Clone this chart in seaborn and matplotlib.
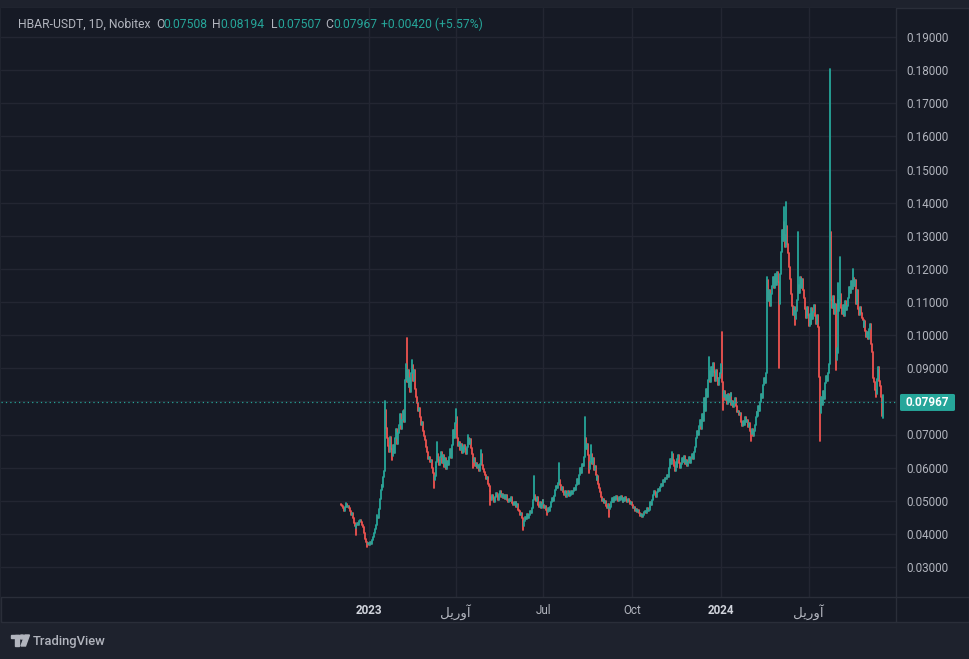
import numpy as np
import pandas as pd
import matplotlib
matplotlib.use("Agg")
import matplotlib.pyplot as plt
import matplotlib.dates as mdates
from matplotlib.patches import FancyBboxPatch, Rectangle, Circle, Polygon
from matplotlib.lines import Line2D
import seaborn as sns

# ---------------- data (daily closes, HBAR-USDT, Nobitex) ----------------
c_2022_12 = [0.0488, 0.0484, 0.0478, 0.0470, 0.0482, 0.0489, 0.0481, 0.0485, 0.0478, 0.0468,
             0.0458, 0.0462, 0.0447, 0.0432, 0.0425, 0.0419, 0.0428, 0.0434, 0.0426, 0.0440,
             0.0443, 0.0437, 0.0428, 0.0420, 0.0402, 0.0384, 0.0376, 0.0368, 0.0372]  # from Dec 3
c_2023_01 = [0.0366, 0.0374, 0.0370, 0.0381, 0.0390, 0.0402, 0.0415, 0.0428, 0.0452, 0.0448,
             0.0476, 0.0505, 0.0532, 0.0548, 0.0541, 0.0572, 0.0590, 0.0775, 0.0720, 0.0688,
             0.0664, 0.0648, 0.0692, 0.0657, 0.0635, 0.0668, 0.0645, 0.0690, 0.0718, 0.0672, 0.0705]
c_2023_02 = [0.0728, 0.0762, 0.0718, 0.0745, 0.0772, 0.0738, 0.0865, 0.0912, 0.0858, 0.0895,
             0.0842, 0.0870, 0.0828, 0.0885, 0.0910, 0.0862, 0.0895, 0.0838, 0.0812, 0.0795,
             0.0770, 0.0781, 0.0752, 0.0728, 0.0738, 0.0712, 0.0695, 0.0684]
c_2023_03 = [0.0662, 0.0648, 0.0625, 0.0632, 0.0618, 0.0622, 0.0598, 0.0585, 0.0562, 0.0575,
             0.0602, 0.0618, 0.0640, 0.0622, 0.0608, 0.0632, 0.0648, 0.0615, 0.0638, 0.0602,
             0.0628, 0.0595, 0.0620, 0.0608, 0.0632, 0.0655, 0.0628, 0.0668, 0.0715, 0.0690, 0.0735]
c_2023_04 = [0.0752, 0.0688, 0.0665, 0.0678, 0.0652, 0.0670, 0.0645, 0.0662, 0.0648, 0.0668,
             0.0655, 0.0640, 0.0662, 0.0690, 0.0672, 0.0685, 0.0660, 0.0642, 0.0618, 0.0628,
             0.0605, 0.0615, 0.0598, 0.0608, 0.0590, 0.0612, 0.0640, 0.0608, 0.0595, 0.0586]
c_2023_05 = [0.0578, 0.0565, 0.0572, 0.0552, 0.0545, 0.0528, 0.0510, 0.0502, 0.0518, 0.0508,
             0.0495, 0.0512, 0.0522, 0.0515, 0.0502, 0.0520, 0.0528, 0.0512, 0.0520, 0.0508,
             0.0516, 0.0505, 0.0518, 0.0502, 0.0495, 0.0506, 0.0498, 0.0510, 0.0492, 0.0486, 0.0495]
c_2023_06 = [0.0488, 0.0495, 0.0482, 0.0490, 0.0472, 0.0468, 0.0458, 0.0462, 0.0448, 0.0425,
             0.0438, 0.0452, 0.0445, 0.0460, 0.0448, 0.0456, 0.0468, 0.0462, 0.0478, 0.0502,
             0.0518, 0.0505, 0.0498, 0.0510, 0.0488, 0.0482, 0.0495, 0.0478, 0.0490, 0.0502]
c_2023_07 = [0.0488, 0.0478, 0.0485, 0.0472, 0.0465, 0.0478, 0.0470, 0.0482, 0.0495, 0.0508,
             0.0500, 0.0515, 0.0532, 0.0545, 0.0538, 0.0555, 0.0562, 0.0548, 0.0532, 0.0542,
             0.0525, 0.0518, 0.0530, 0.0512, 0.0520, 0.0528, 0.0515, 0.0524, 0.0518, 0.0530, 0.0520]
c_2023_08 = [0.0528, 0.0538, 0.0532, 0.0548, 0.0565, 0.0552, 0.0578, 0.0598, 0.0585, 0.0612,
             0.0605, 0.0632, 0.0688, 0.0655, 0.0672, 0.0638, 0.0595, 0.0618, 0.0640, 0.0610,
             0.0628, 0.0592, 0.0605, 0.0578, 0.0562, 0.0575, 0.0552, 0.0538, 0.0525, 0.0510, 0.0498]
c_2023_09 = [0.0505, 0.0492, 0.0498, 0.0485, 0.0478, 0.0490, 0.0475, 0.0482, 0.0495, 0.0508,
             0.0496, 0.0512, 0.0502, 0.0515, 0.0505, 0.0498, 0.0510, 0.0502, 0.0514, 0.0505,
             0.0496, 0.0508, 0.0500, 0.0512, 0.0503, 0.0495, 0.0506, 0.0498, 0.0490, 0.0497]
c_2023_10 = [0.0488, 0.0478, 0.0482, 0.0470, 0.0475, 0.0465, 0.0472, 0.0462, 0.0455, 0.0460,
             0.0452, 0.0458, 0.0466, 0.0470, 0.0462, 0.0478, 0.0468, 0.0472, 0.0480, 0.0495,
             0.0488, 0.0502, 0.0518, 0.0530, 0.0522, 0.0512, 0.0525, 0.0535, 0.0528, 0.0542, 0.0550]
c_2023_11 = [0.0545, 0.0562, 0.0558, 0.0570, 0.0565, 0.0578, 0.0572, 0.0598, 0.0625, 0.0612,
             0.0640, 0.0622, 0.0605, 0.0590, 0.0618, 0.0602, 0.0625, 0.0638, 0.0615, 0.0598,
             0.0612, 0.0630, 0.0618, 0.0635, 0.0610, 0.0622, 0.0605, 0.0618, 0.0632, 0.0615]
c_2023_12 = [0.0628, 0.0640, 0.0625, 0.0648, 0.0662, 0.0688, 0.0712, 0.0698, 0.0725, 0.0745,
             0.0718, 0.0762, 0.0742, 0.0785, 0.0810, 0.0772, 0.0838, 0.0812, 0.0865, 0.0892,
             0.0858, 0.0905, 0.0878, 0.0915, 0.0888, 0.0862, 0.0895, 0.0872, 0.0848, 0.0872, 0.0885]
c_2024_01 = [0.0912, 0.0858, 0.0812, 0.0832, 0.0805, 0.0818, 0.0792, 0.0822, 0.0798, 0.0815,
             0.0825, 0.0790, 0.0802, 0.0782, 0.0795, 0.0810, 0.0785, 0.0768, 0.0772, 0.0758,
             0.0765, 0.0738, 0.0725, 0.0742, 0.0730, 0.0752, 0.0738, 0.0745, 0.0722, 0.0735, 0.0712]
c_2024_02 = [0.0702, 0.0718, 0.0695, 0.0712, 0.0728, 0.0752, 0.0768, 0.0755, 0.0785, 0.0772,
             0.0798, 0.0822, 0.0810, 0.0848, 0.0872, 0.0855, 0.0885, 0.1165, 0.1102, 0.1135,
             0.1088, 0.1125, 0.1148, 0.1175, 0.1142, 0.1185, 0.1152, 0.1192, 0.1160]
c_2024_03 = [0.1095, 0.1185, 0.1252, 0.1318, 0.1285, 0.1342, 0.1302, 0.1265, 0.1328, 0.1275,
             0.1248, 0.1205, 0.1168, 0.1125, 0.1088, 0.1062, 0.1085, 0.1048, 0.1072, 0.1105,
             0.1152, 0.1128, 0.1175, 0.1142, 0.1168, 0.1135, 0.1112, 0.1078, 0.1052, 0.1085, 0.1062]
c_2024_04 = [0.1028, 0.1065, 0.1035, 0.1082, 0.1048, 0.1070, 0.1092, 0.1058, 0.1035, 0.1062,
             0.1025, 0.0875, 0.0765, 0.0812, 0.0790, 0.0832, 0.0808, 0.0855, 0.0878, 0.0862,
             0.0885, 0.0912, 0.1310, 0.1105, 0.1082, 0.1118, 0.1065, 0.1095, 0.0925, 0.0960]
c_2024_05 = [0.1105, 0.1072, 0.1098, 0.1125, 0.1082, 0.1065, 0.1092, 0.1058, 0.1102, 0.1075,
             0.1088, 0.1112, 0.1145, 0.1128, 0.1162, 0.1138, 0.1172, 0.1148, 0.1165, 0.1095,
             0.1135, 0.1078, 0.1062, 0.1085, 0.1068, 0.1052, 0.1045, 0.1025, 0.1042, 0.1012, 0.0995]
c_2024_06 = [0.1008, 0.0988, 0.1018, 0.1035, 0.0972, 0.0948, 0.0872, 0.0858, 0.0835, 0.0822,
             0.0868, 0.0905, 0.0862, 0.0845, 0.0812, 0.07547, 0.07967]

month_starts = ["2022-12-03", "2023-01-01", "2023-02-01", "2023-03-01", "2023-04-01", "2023-05-01",
                "2023-06-01", "2023-07-01", "2023-08-01", "2023-09-01", "2023-10-01", "2023-11-01",
                "2023-12-01", "2024-01-01", "2024-02-01", "2024-03-01", "2024-04-01", "2024-05-01",
                "2024-06-01"]
month_closes = [c_2022_12, c_2023_01, c_2023_02, c_2023_03, c_2023_04, c_2023_05, c_2023_06,
                c_2023_07, c_2023_08, c_2023_09, c_2023_10, c_2023_11, c_2023_12, c_2024_01,
                c_2024_02, c_2024_03, c_2024_04, c_2024_05, c_2024_06]
first_open = 0.0490

# notable wick extremes (date -> price)
wick_highs = {"2022-12-08": 0.0492, "2023-01-09": 0.0458, "2023-01-18": 0.0800, "2023-02-06": 0.0775,
              "2023-02-09": 0.0991, "2023-02-15": 0.0925, "2023-03-13": 0.0677, "2023-04-01": 0.0778,
              "2023-04-14": 0.0700, "2023-04-27": 0.0653, "2023-06-21": 0.0575, "2023-07-17": 0.0614,
              "2023-08-13": 0.0753, "2023-08-19": 0.0668, "2023-11-11": 0.0648, "2023-12-20": 0.0935,
              "2024-01-02": 0.1010, "2024-02-18": 0.1175, "2024-03-06": 0.1386, "2024-03-09": 0.1402,
              "2024-03-21": 0.1310, "2024-04-23": 0.1803, "2024-05-01": 0.1157, "2024-05-04": 0.1236,
              "2024-05-17": 0.1200, "2024-06-17": 0.08194}
wick_lows = {"2022-12-18": 0.0397, "2022-12-30": 0.0360, "2023-01-25": 0.0622, "2023-03-09": 0.0540,
             "2023-04-19": 0.0600, "2023-05-07": 0.0487, "2023-06-10": 0.0412, "2023-07-05": 0.0458,
             "2023-08-17": 0.0585, "2023-09-07": 0.0450, "2023-10-11": 0.0450, "2024-01-03": 0.0775,
             "2024-02-01": 0.0680, "2024-03-01": 0.0900, "2024-03-18": 0.1030, "2024-04-13": 0.0680,
             "2024-04-29": 0.0895, "2024-05-01": 0.0946, "2024-06-10": 0.0813, "2024-06-17": 0.07507}

price_ticks = [0.02, 0.03, 0.04, 0.05, 0.06, 0.07, 0.08, 0.09, 0.10, 0.11, 0.12, 0.13, 0.14,
               0.15, 0.16, 0.17, 0.18, 0.19, 0.20]
date_ticks = ["2023-01-01", "2023-04-01", "2023-07-01", "2023-10-01", "2024-01-01", "2024-04-01"]
date_labels = ["2023", "آوریل", "Jul", "Oct", "2024", "آوریل"]
header_parts = [("HBAR-USDT, 1D, Nobitex", "name"), ("O", "k"), ("0.07508", "v"), ("H", "k"),
                ("0.08194", "v"), ("L", "k"), ("0.07507", "v"), ("C", "k"), ("0.07967", "v"),
                ("+0.00420 (+5.57%)", "v")]

# ---------------- helpers ----------------
_forms = {  # isolated, final, initial, medial
    "آ": ("\uFE81", "\uFE82", None, None),
    "و": ("\uFEED", "\uFEEE", None, None),
    "ر": ("\uFEAD", "\uFEAE", None, None),
    "ی": ("\uFBFC", "\uFBFD", "\uFBFE", "\uFBFF"),
    "ل": ("\uFEDD", "\uFEDE", "\uFEDF", "\uFEE0"),
}


def shape_rtl(s):
    if not any(ch in _forms for ch in s):
        return s
    out = []
    for i, ch in enumerate(s):
        f = _forms[ch]
        jp = i > 0 and _forms[s[i - 1]][2] is not None
        jn = i < len(s) - 1 and f[2] is not None
        if jp and jn:
            g = f[3]
        elif jp:
            g = f[1]
        elif jn:
            g = f[2]
        else:
            g = f[0]
        out.append(g)
    return "".join(reversed(out))


# ---------------- build candles ----------------
dates, closes = [], []
for ms, cl in zip(month_starts, month_closes):
    dates.extend(pd.date_range(ms, periods=len(cl), freq="D"))
    closes.extend(cl)
opens = [first_open] + closes[:-1]
rows = []
for i, (d, o, c) in enumerate(zip(dates, opens, closes)):
    key = d.strftime("%Y-%m-%d")
    hi = max(o, c, wick_highs.get(key, 0))
    lo = min(o, c, wick_lows.get(key, 1))
    direction = "up" if c >= o else "down"
    rows.append((d, lo, i, direction))
    rows.append((d, hi, i, direction))
df = pd.DataFrame(rows, columns=["date", "price", "cid", "dir"])

# ---------------- figure ----------------
W, H = 970, 659
BG = "#161A25"
OUTER = "#1E222D"
BORDER = "#2A2E39"
TXT = "#B2B5BE"
UP = "#26A69A"
DOWN = "#EF5350"

sns.set_theme(style="dark")
plt.rcParams["font.family"] = ["Roboto", "DejaVu Sans"]

fig = plt.figure(figsize=(W / 100, H / 100), dpi=100)
fig.patch.set_facecolor(OUTER)


def fx(x):
    return x / W


def fy(y):
    return 1 - y / H


# panel
fig.patches.append(Rectangle((fx(0.5), fy(622)), fx(969), (622 - 8) / H, transform=fig.transFigure,
                             facecolor=BG, edgecolor=BORDER, lw=1, zorder=-5))

ax = fig.add_axes([fx(1), fy(597), fx(895), (597 - 8) / H])
ax.set_facecolor(BG)
ax.set_zorder(1)

sns.lineplot(data=df, x="date", y="price", units="cid", hue="dir", estimator=None,
             palette={"up": UP, "down": DOWN}, lw=1.3, legend=False, sort=False, ax=ax)

base = mdates.date2num(pd.Timestamp("2023-01-01"))
px_per_day = 0.964

ax.set_yticks(price_ticks)
ax.set_yticklabels([f"{t:.5f}" for t in price_ticks])
ax.yaxis.tick_right()
ax.tick_params(axis="y", length=0, pad=7.5, labelsize=8.4, labelcolor=TXT)

ax.set_xticks([mdates.date2num(pd.Timestamp(d)) for d in date_ticks])
ax.set_xticklabels([shape_rtl(l) for l in date_labels])
ax.tick_params(axis="x", length=0, pad=5, labelsize=8.4, labelcolor=TXT)
for lab, raw in zip(ax.get_xticklabels(), date_labels):
    if raw.isdigit():
        lab.set_fontweight("bold")
        lab.set_color("#D1D4DC")
    elif not raw.isascii():
        lab.set_fontfamily(["DejaVu Sans"])
        lab.set_fontsize(9.6)

ax.set_xlim(base + (1 - 369) / px_per_day, base + (896 - 369) / px_per_day)
ax.set_ylim(0.19 - (597 - 37) / 3312.5, 0.19 - (8 - 37) / 3312.5)

ax.set_xlabel("")
ax.set_ylabel("")
ax.grid(True, color="#232632", lw=1.0)
ax.set_axisbelow(True)
for s in ax.spines.values():
    s.set_visible(False)

# separators
fig.lines.append(Line2D([fx(1), fx(969)], [fy(597), fy(597)], transform=fig.transFigure, color=BORDER, lw=1, zorder=3))
fig.lines.append(Line2D([fx(896), fx(896)], [fy(8), fy(622)], transform=fig.transFigure, color=BORDER, lw=1, zorder=3))

# last price line + label
last = closes[-1]
ax.axhline(last, color=UP, lw=0.9, ls=(0, (1, 2.5)))
fig.canvas.draw()
ly = ax.transData.transform((0, last))[1]
ly_px = H - ly
fig.patches.append(FancyBboxPatch((fx(900), fy(ly_px + 8.5)), fx(55), 17 / H,
                                  boxstyle="round,pad=0,rounding_size=0.002", transform=fig.transFigure,
                                  facecolor=UP, edgecolor="none", zorder=5))
fig.text(fx(927.5), fy(ly_px), f"{last:.5f}", color="white", fontsize=8.4, fontweight="bold",
         ha="center", va="center", zorder=6)

# header
header_x = [18, 156, 163.5, 212.5, 220, 270.5, 277, 325.5, 333.5, 381.5]
for (txt, kind), x in zip(header_parts, header_x):
    col = UP if kind == "v" else TXT
    fig.text(fx(x), fy(24.5), txt, color=col, fontsize=8.7, ha="left", va="center", zorder=6)

# TradingView logo
lc = "#B2B5BE"
fig.patches.append(Rectangle((fx(11), fy(638)), fx(8), 3 / H, transform=fig.transFigure, color=lc))
fig.patches.append(Rectangle((fx(15), fy(646)), fx(4), 11 / H, transform=fig.transFigure, color=lc))
fig.patches.append(Circle((fx(22), fy(637)), 2 / H, transform=fig.transFigure, color=lc))
fig.patches.append(Polygon([(fx(25), fy(635)), (fx(29.5), fy(635)), (fx(25.5), fy(646)), (fx(21), fy(646))],
                           closed=True, transform=fig.transFigure, color=lc))
fig.text(fx(33), fy(641), "TradingView", color=lc, fontsize=9.4, fontweight="medium", ha="left", va="center")

fig.savefig("out.png", dpi=100, facecolor=fig.get_facecolor())
